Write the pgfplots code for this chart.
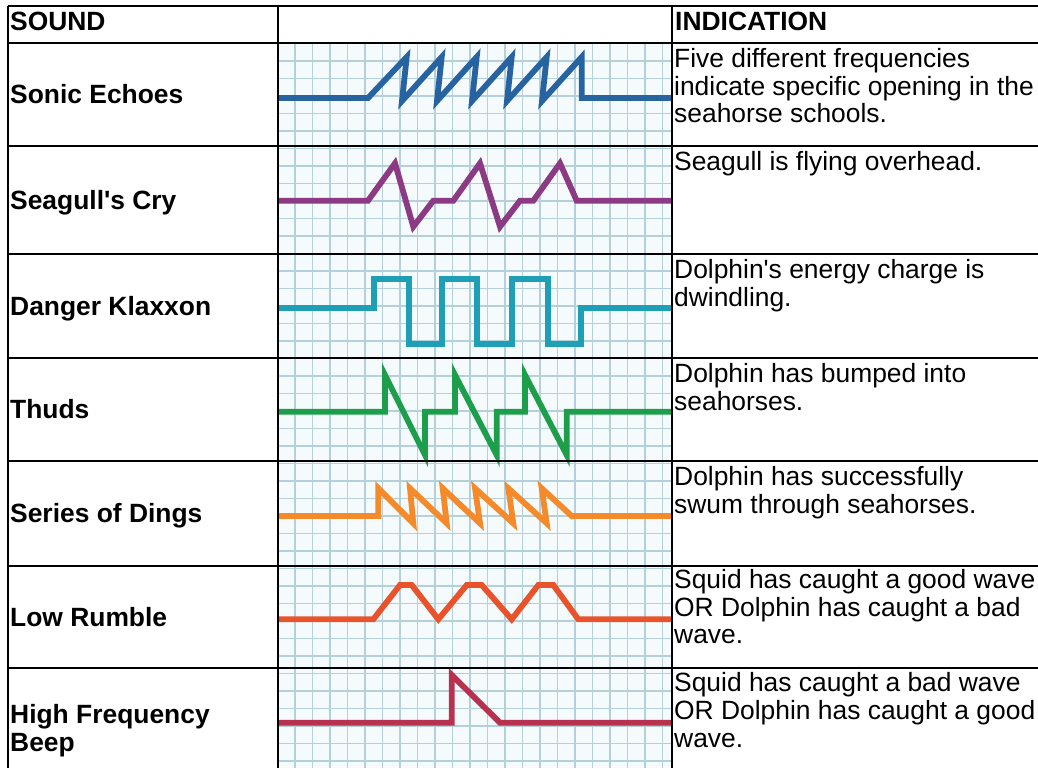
\documentclass[border=0pt]{standalone}
\usepackage{fontspec}
\setmainfont{Liberation Sans}[Ligatures=TeXOff]
\usepackage{pgfplots}
\pgfplotsset{compat=1.18}
\definecolor{gridc}{RGB}{180,208,218}
\definecolor{gridbg}{RGB}{245,250,252}
\definecolor{wblue}{RGB}{38,99,160}
\definecolor{wpurple}{RGB}{139,58,131}
\definecolor{wteal}{RGB}{30,159,181}
\definecolor{wgreen}{RGB}{28,158,75}
\definecolor{worange}{RGB}{245,138,43}
\definecolor{wred}{RGB}{232,83,43}
\definecolor{wcrimson}{RGB}{184,50,79}
\newcommand{\tf}{\fontsize{26.4}{27.5}\selectfont}
\begin{document}
\begin{tikzpicture}
\useasboundingbox (0,0) rectangle (1038pt,768pt);
\fill[white] (0,0) rectangle (1038pt,768pt);
\begin{scope}[x=1pt,y=-1pt,shift={(0pt,768pt)}]
  \fill[gridbg] (278,43) rectangle (672,768);
  \foreach \k in {0,...,21} \draw[gridc,line width=1.3pt] ({295+17.5*\k},43) -- ({295+17.5*\k},768);
  \foreach \k in {1,...,41} \draw[gridc,line width=1.3pt] (278,{43.5+17.5*\k}) -- (672,{43.5+17.5*\k});
\end{scope}
\begin{axis}[at={(0pt,0pt)},anchor=south west,scale only axis,width=1038pt,height=768pt,
  xmin=0,xmax=1038,ymin=0,ymax=768,y dir=reverse,hide axis,clip=false,
  every axis plot/.append style={line width=5.8pt,line join=miter,miter limit=6,no markers}]
\addplot[wblue] coordinates {(278,98) (368,98) (406.7,57) (402,101) (441.7,57) (437,101) (476.7,57) (472,101) (511.7,57) (507,101) (546.7,57) (542,101) (581.7,57) (581.7,98) (672,98)};
\addplot[wpurple] coordinates {(278,200.7) (368,200.7) (395,163.3) (413.3,226.7) (433.3,200.7) (453.3,200.7) (480,163.3) (500,226.7) (520,200.7) (533.3,200.7) (560,163.3) (576.7,200.7) (672,200.7)};
\addplot[wteal] coordinates {(278,308) (374,308) (374,279) (409.3,279) (409.3,344) (442.3,344) (442.3,279) (476.7,279) (476.7,344) (512.3,344) (512.3,279) (548.3,279) (548.3,344) (580.7,344) (580.7,308) (672,308)};
\addplot[wgreen] coordinates {(278,411.7) (385,411.7) (385,375) (425,455) (425,411.7) (455,411.7) (455,375) (496.7,455) (496.7,411.7) (525,411.7) (525,375) (566.7,455) (566.7,411.7) (672,411.7)};
\addplot[worange] coordinates {(278,516) (378.3,516) (378.3,488.3) (413.3,523.3) (410,488.3) (446.7,523.3) (442.7,488.3) (480,523.3) (475,488.3) (513.3,523.3) (508.3,488.3) (546.7,523.3) (541.7,488.3) (571.7,516) (672,516)};
\addplot[wred] coordinates {(278,619.3) (373.3,619.3) (400,585) (411.7,585) (438.3,619.3) (466.7,585) (481.7,585) (511.7,619.3) (538.3,585) (553.3,585) (578.3,619.3) (672,619.3)};
\addplot[wcrimson] coordinates {(278,722.7) (451.7,722.7) (451.7,675) (500,722.7) (672,722.7)};
\end{axis}
\begin{scope}[x=1pt,y=-1pt,shift={(0pt,768pt)}]
  \foreach \y in {6,43,146,254,358,461,566,668} \draw[black,line width=1.6pt] (8,\y) -- (1038,\y);
  \foreach \x in {8,278,672} \draw[black,line width=1.6pt] (\x,6) -- (\x,768);
  \tikzset{lab/.style={anchor=base west,inner sep=0pt,font=\tf\bfseries},
           txt/.style={anchor=base west,inner sep=0pt,font=\tf}}
  \node[lab] at (10,31) {SOUND};
  \node[lab] at (675,31) {INDICATION};
  \node[lab] at (10,104) {Sonic Echoes};
  \node[lab] at (10,209.5) {Seagull's Cry};
  \node[lab] at (10,315.5) {Danger Klaxxon};
  \node[lab] at (10,419) {Thuds};
  \node[lab] at (10,523) {Series of Dings};
  \node[lab] at (10,626.5) {Low Rumble};
  \node[lab] at (10,723.3) {High Frequency};
  \node[lab] at (10,751.5) {Beep};
  \node[txt] at (674,68) {Five different frequencies};
  \node[txt] at (674,95.5) {indicate specific opening in the};
  \node[txt] at (674,123) {seahorse schools.};
  \node[txt] at (674,171) {Seagull is flying overhead.};
  \node[txt] at (674,279) {Dolphin's energy charge is};
  \node[txt] at (674,306.5) {dwindling.};
  \node[txt] at (674,383) {Dolphin has bumped into};
  \node[txt] at (674,410.5) {seahorses.};
  \node[txt] at (674,486) {Dolphin has successfully};
  \node[txt] at (674,513.5) {swum through seahorses.};
  \node[txt] at (674,589) {Squid has caught a good wave};
  \node[txt] at (674,616.5) {OR Dolphin has caught a bad};
  \node[txt] at (674,644) {wave.};
  \node[txt] at (674,692) {Squid has caught a bad wave};
  \node[txt] at (674,719.5) {OR Dolphin has caught a good};
  \node[txt] at (674,747) {wave.};
\end{scope}
\end{tikzpicture}
\end{document}
